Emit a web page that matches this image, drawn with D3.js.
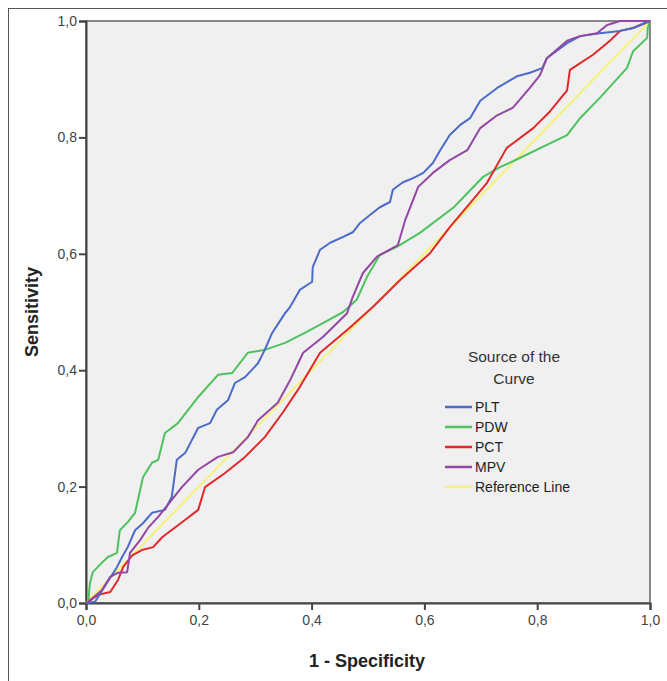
<!DOCTYPE html>
<html>
<head>
<meta charset="utf-8">
<script src="https://cdn.jsdelivr.net/npm/d3@7"></script>
<style>
  body { margin: 0; background: #fff; }
  text { font-family: "Liberation Sans", Arial, sans-serif; }
</style>
</head>
<body>
<div class="roc_chart"></div>
<script>
// ROC curves as [1 - specificity, sensitivity]
var pltPoints = [[0,0],[0.016,0.002],[0.055,0.062],[0.064,0.079],[0.074,0.096],[0.087,0.125],[0.101,0.137],[0.117,0.155],[0.140,0.160],[0.152,0.182],[0.161,0.246],[0.176,0.258],[0.199,0.301],[0.220,0.309],[0.232,0.332],[0.252,0.349],[0.264,0.378],[0.282,0.388],[0.305,0.412],[0.317,0.435],[0.330,0.464],[0.353,0.498],[0.362,0.509],[0.379,0.538],[0.401,0.552],[0.402,0.577],[0.415,0.607],[0.433,0.619],[0.456,0.629],[0.473,0.637],[0.486,0.653],[0.504,0.667],[0.521,0.680],[0.539,0.689],[0.544,0.710],[0.562,0.723],[0.580,0.730],[0.598,0.739],[0.615,0.756],[0.628,0.778],[0.645,0.804],[0.663,0.821],[0.681,0.833],[0.699,0.863],[0.729,0.885],[0.764,0.905],[0.787,0.911],[0.809,0.919],[0.817,0.936],[0.853,0.962],[0.876,0.974],[0.911,0.979],[0.947,0.983],[0.970,0.988],[1,1]];
var pdwPoints = [[0,0],[0.004,0.002],[0.007,0.034],[0.012,0.053],[0.028,0.069],[0.039,0.079],[0.055,0.086],[0.060,0.125],[0.074,0.139],[0.087,0.155],[0.101,0.216],[0.117,0.241],[0.128,0.246],[0.140,0.292],[0.163,0.309],[0.199,0.354],[0.234,0.392],[0.259,0.395],[0.287,0.430],[0.317,0.435],[0.353,0.447],[0.388,0.464],[0.420,0.481],[0.456,0.500],[0.480,0.521],[0.498,0.560],[0.521,0.598],[0.551,0.612],[0.592,0.636],[0.651,0.679],[0.676,0.704],[0.704,0.732],[0.734,0.749],[0.757,0.759],[0.853,0.804],[0.876,0.833],[0.911,0.868],[0.959,0.919],[0.970,0.948],[0.995,0.971],[0.996,0.988],[1,1]];
var pctPoints = [[0,0],[0.004,0.002],[0.021,0.014],[0.043,0.019],[0.057,0.040],[0.066,0.062],[0.082,0.082],[0.099,0.091],[0.119,0.096],[0.135,0.113],[0.176,0.143],[0.199,0.160],[0.211,0.199],[0.246,0.223],[0.282,0.251],[0.317,0.285],[0.348,0.326],[0.379,0.371],[0.415,0.430],[0.463,0.469],[0.509,0.509],[0.557,0.555],[0.610,0.601],[0.645,0.646],[0.681,0.687],[0.711,0.722],[0.746,0.782],[0.793,0.816],[0.823,0.845],[0.853,0.881],[0.858,0.916],[0.899,0.942],[0.929,0.966],[0.947,0.983],[0.970,0.988],[1,1]];
var mpvPoints = [[0,0],[0.004,0.002],[0.028,0.022],[0.043,0.045],[0.057,0.052],[0.073,0.053],[0.078,0.086],[0.096,0.108],[0.110,0.129],[0.128,0.148],[0.152,0.177],[0.170,0.199],[0.199,0.229],[0.234,0.251],[0.261,0.259],[0.287,0.285],[0.305,0.314],[0.340,0.344],[0.362,0.383],[0.385,0.430],[0.420,0.457],[0.463,0.498],[0.473,0.526],[0.491,0.567],[0.516,0.595],[0.553,0.615],[0.566,0.658],[0.589,0.715],[0.615,0.739],[0.645,0.761],[0.676,0.778],[0.699,0.816],[0.729,0.838],[0.757,0.851],[0.787,0.885],[0.805,0.907],[0.817,0.936],[0.853,0.966],[0.876,0.974],[0.906,0.979],[0.924,0.993],[0.947,1],[1,1]];
var refPoints = [[0,0],[1,1]];

var seriesNames = ["PLT", "PDW", "PCT", "MPV", "Reference Line"];
var seriesColors = ["#4a6bc9", "#4ec25f", "#e3282b", "#9446a5", "#f4f27a"];
var tickValues = [0, 0.2, 0.4, 0.6, 0.8, 1.0];

var series = [pltPoints, pdwPoints, pctPoints, mpvPoints, refPoints];

var margin = {top: 21, left: 86},
    width = 564,
    height = 582;

var svg = d3.select(".roc_chart")
  .append("svg")
  .attr("width", 667)
  .attr("height", 681);

// outer frame (only top and left edge fit in the window)
svg.append("rect")
  .attr("x", 8.5).attr("y", 8.5)
  .attr("width", 700).attr("height", 700)
  .attr("fill", "none")
  .attr("stroke", "#555");

var g = svg.append("g")
  .attr("transform", "translate(" + margin.left + "," + margin.top + ")");

var x = d3.scaleLinear().domain([0, 1]).range([0, width]);
var y = d3.scaleLinear().domain([0, 1]).range([height, 0]);

g.append("rect")
  .attr("width", width).attr("height", height)
  .attr("fill", "#f0f0f0")
  .attr("stroke", "#888")
  .attr("stroke-width", 2);

var fmt = function(d) { return d3.format(".1f")(d).replace(".", ","); };

var xAxis = g.append("g")
  .attr("transform", "translate(0," + height + ")")
  .call(d3.axisBottom(x).tickValues(tickValues).tickFormat(fmt).tickSize(7).tickPadding(5));

var yAxis = g.append("g")
  .call(d3.axisLeft(y).tickValues(tickValues).tickFormat(fmt).tickSize(7).tickPadding(2));

[xAxis, yAxis].forEach(function(ax) {
  ax.select(".domain").attr("stroke", "#444").attr("stroke-width", 2);
  ax.selectAll(".tick line").attr("stroke", "#444").attr("stroke-width", 2);
  ax.selectAll(".tick text")
    .attr("fill", "#444")
    .style("font-size", "14px")
    .style("font-family", "Liberation Sans, Arial, sans-serif");
});

var line = d3.line()
  .x(function(d) { return x(d[0]); })
  .y(function(d) { return y(d[1]); });

// reference line first, the curves on top
var order = [4, 1, 2, 0, 3];
order.forEach(function(i) {
  g.append("path")
    .datum(series[i])
    .attr("d", line)
    .attr("fill", "none")
    .attr("stroke", seriesColors[i])
    .attr("stroke-width", 2)
    .attr("stroke-linejoin", "round");
});

// axis titles
svg.append("text")
  .attr("x", 367).attr("y", 667)
  .attr("text-anchor", "middle")
  .style("font-size", "18px")
  .style("font-weight", "bold")
  .attr("fill", "#222")
  .text("1 - Specificity");

svg.append("text")
  .attr("transform", "translate(38,312) rotate(-90)")
  .attr("text-anchor", "middle")
  .style("font-size", "18px")
  .style("font-weight", "bold")
  .attr("fill", "#222")
  .text("Sensitivity");

// legend
var legend = svg.append("g");
legend.append("text")
  .attr("x", 514).attr("y", 362)
  .attr("text-anchor", "middle")
  .style("font-size", "15.5px")
  .attr("fill", "#333")
  .text("Source of the");
legend.append("text")
  .attr("x", 514).attr("y", 384)
  .attr("text-anchor", "middle")
  .style("font-size", "15.5px")
  .attr("fill", "#333")
  .text("Curve");

var item = legend.selectAll(".item")
  .data(seriesNames)
  .enter().append("g")
  .attr("class", "item")
  .attr("transform", function(d, i) { return "translate(445," + (407 + i * 20) + ")"; });

item.append("line")
  .attr("x1", 0).attr("x2", 27)
  .attr("stroke", function(d, i) { return seriesColors[i]; })
  .attr("stroke-width", 2.5);

item.append("text")
  .attr("x", 30).attr("dy", "0.35em")
  .style("font-size", "14px")
  .attr("fill", "#222")
  .text(function(d) { return d; });
</script>
</body>
</html>
